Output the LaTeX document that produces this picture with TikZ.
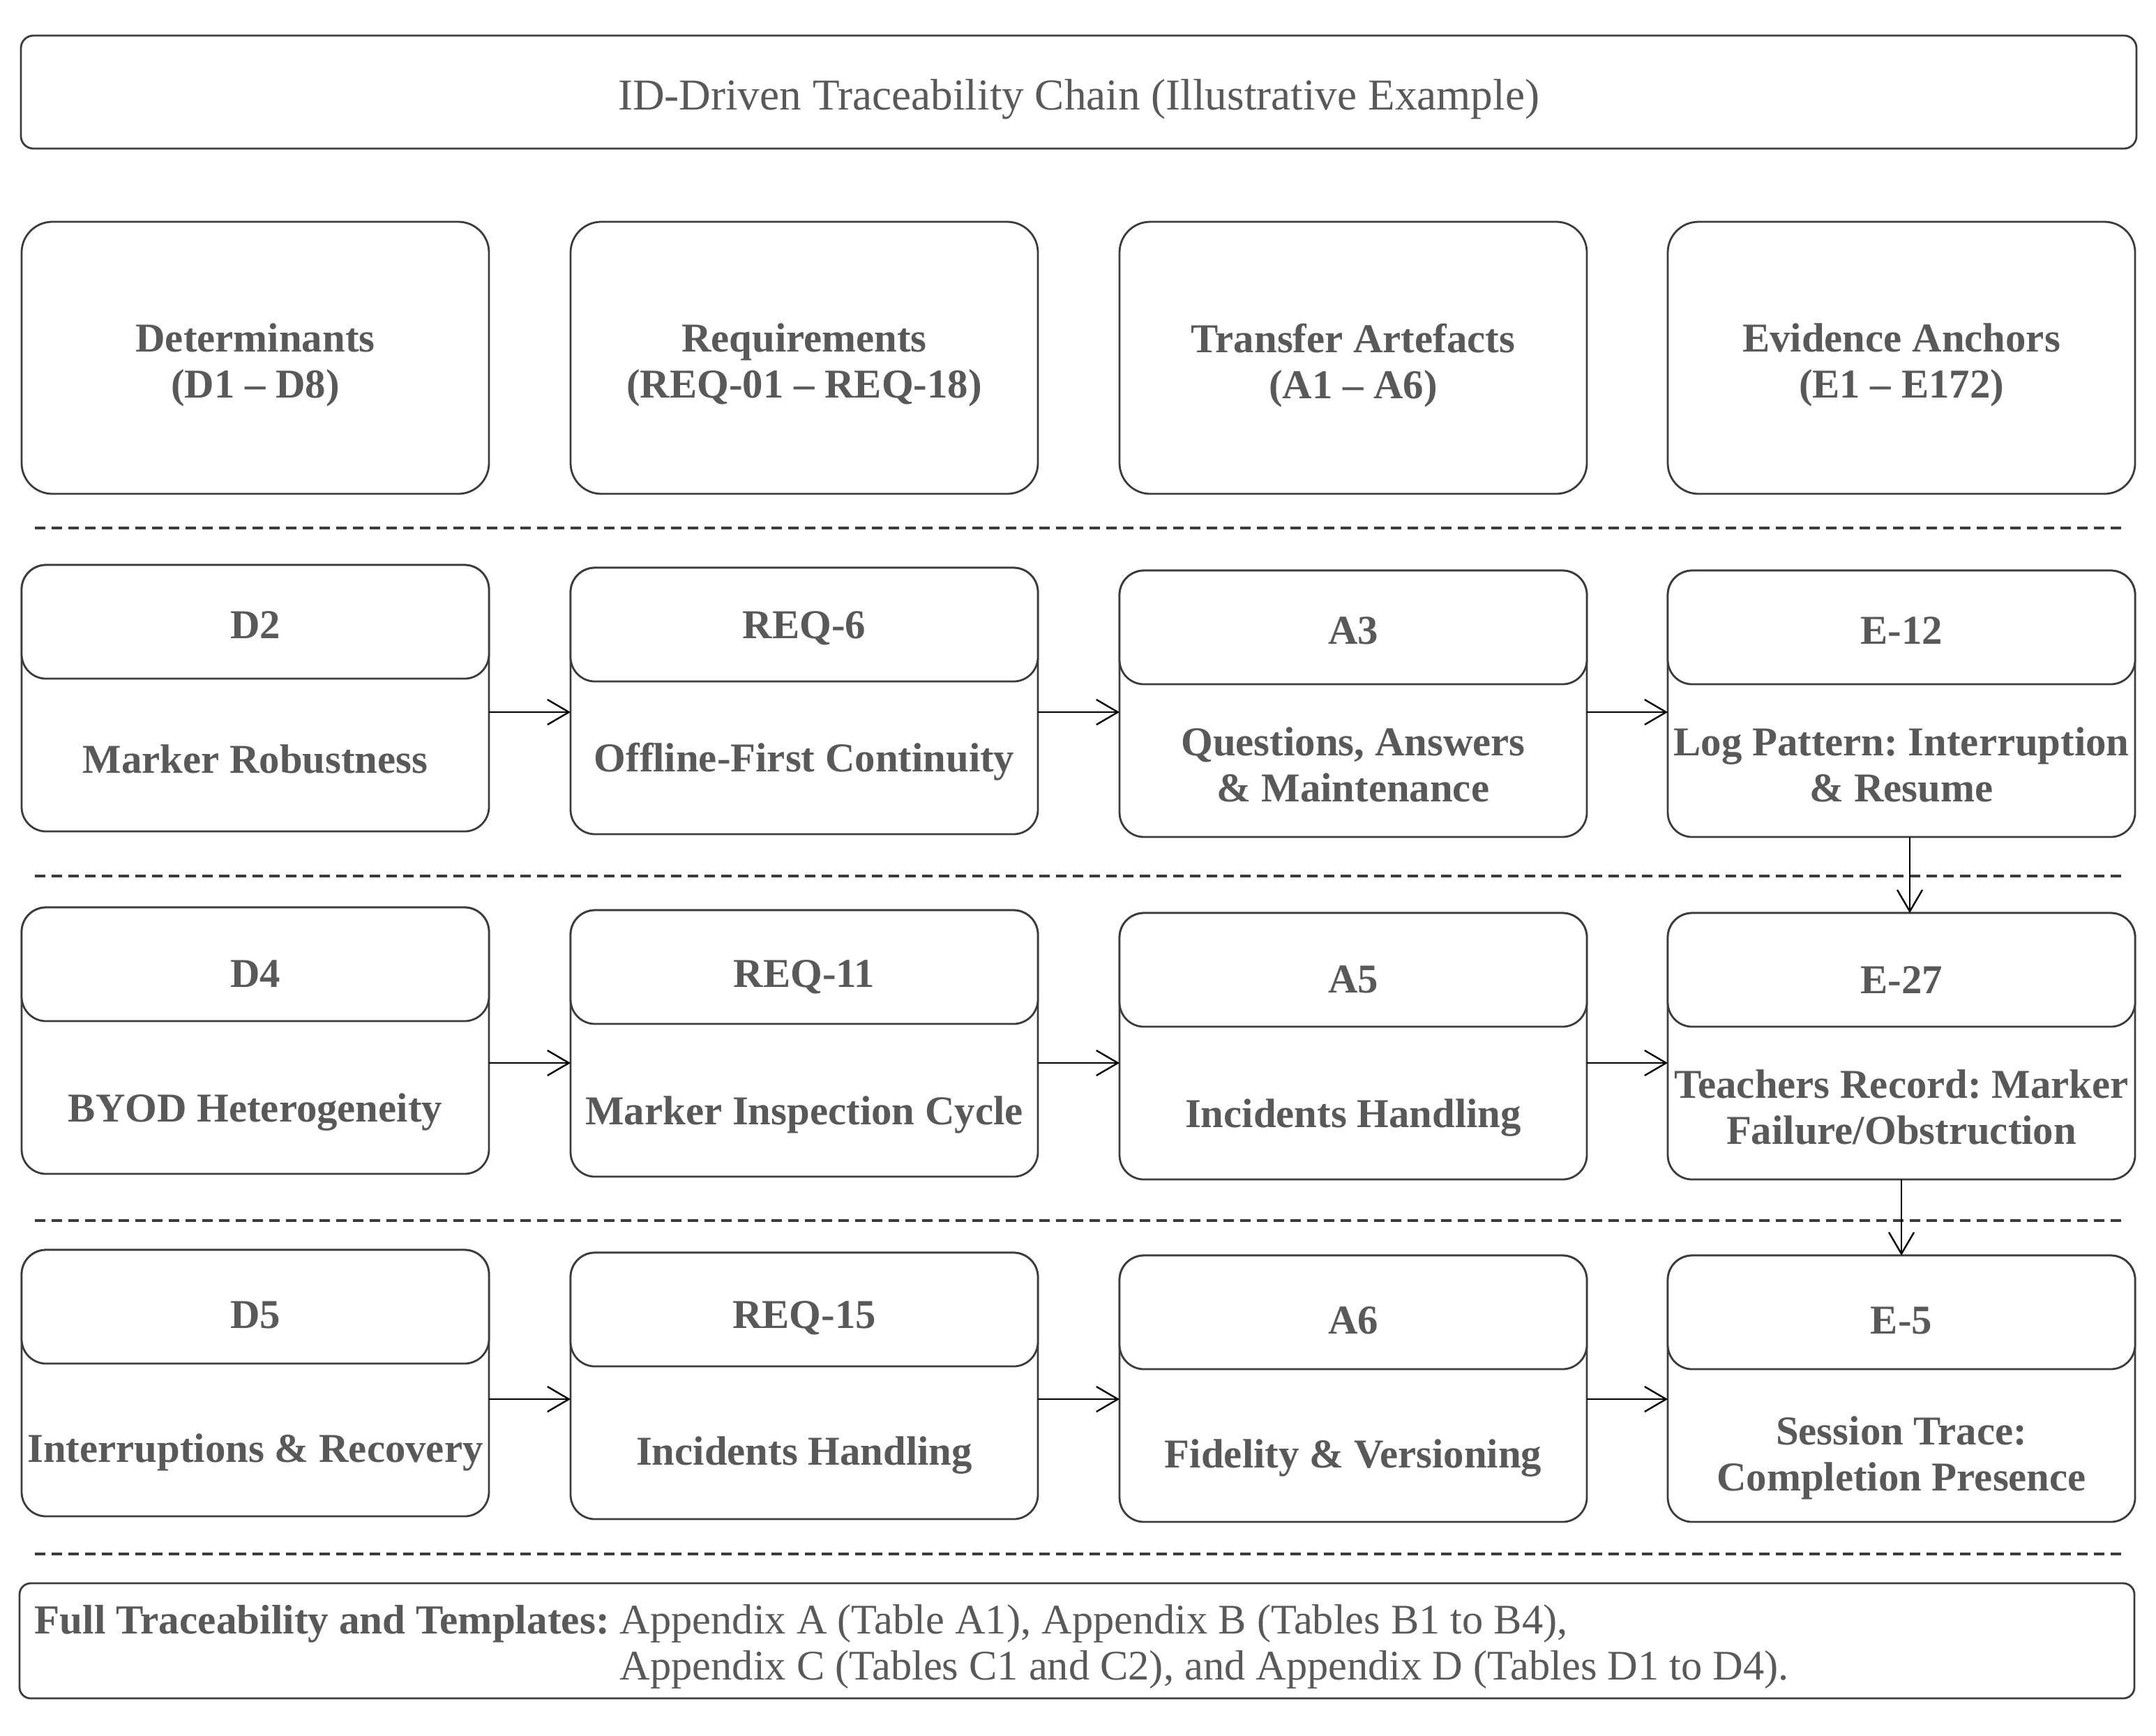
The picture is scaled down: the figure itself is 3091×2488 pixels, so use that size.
\documentclass[tikz,border=0pt]{standalone}
\usepackage{fontspec}
\setmainfont{Liberation Serif}
\usetikzlibrary{arrows.meta}
\definecolor{txtc}{HTML}{595959}
\definecolor{lnc}{HTML}{3C3C3C}
\newcommand\boxfont{\fontsize{14.7}{16.5}\selectfont\bfseries}
\newcommand\chainbox[5]{%
  \node[boxshape] (#1) at (#2,#3) {};
  \node[hdrshape] (#1h) at (#2,#3) {};
  \node[bodytext,hdrshift] (#1ht) at (#1h.center) {#4};
  \path (#1h.south) -- (#1.south) node[midway,bodytext,bodyshift] (#1b) {#5};}
\begin{document}
\frenchspacing
\begin{tikzpicture}[x=0.25pt,y=-0.25pt,
  boxshape/.style={draw=lnc,line width=0.7pt,rounded corners=8.75pt,minimum width=167.5pt,minimum height=95.5pt,inner sep=0pt,outer sep=0pt,anchor=north west,fill=white},
  hdrshape/.style={boxshape,minimum height=40.75pt},
  bodytext/.style={text=txtc,font=\boxfont,align=center,inner sep=0pt},
  topbox/.style={draw=lnc,line width=0.7pt,rounded corners=11pt,minimum width=167.5pt,minimum height=97.5pt,inner sep=0pt,outer sep=0pt,anchor=north west},
  conn/.style={draw=black,line width=0.6pt,-{Straight Barb[length=7.7pt,width=9pt,line width=0.6pt]}},
  sepline/.style={draw=lnc,line width=1pt,dash pattern=on 3.75pt off 2.25pt},
  hdrshift/.style={yshift=-1.2pt},
  bodyshift/.style={yshift=-1.5pt}
]
\useasboundingbox[fill=white] (0,0) rectangle (3091,2488);

% title
\node[draw=lnc,line width=0.7pt,rounded corners=4.5pt,minimum width=758.25pt,minimum height=40.5pt,inner sep=0pt,outer sep=0pt,anchor=north west] (title) at (30,51) {};
\node[text=txtc,font=\fontsize{15.8}{18}\selectfont,inner sep=0pt,yshift=-2.5pt] (titletext) at (title.center) {ID-Driven Traceability Chain (Illustrative Example)};

% column headers
\node[topbox] (hd) at (31,318) {};
\node[topbox] (hr) at (818,318) {};
\node[topbox] (ha) at (1605,318) {};
\node[topbox] (he) at (2391,318) {};
\node[bodytext,yshift=-2.7pt] (hdt) at (hd.center) {Determinants\\(D1 – D8)};
\node[bodytext,yshift=-2.7pt] (hrt) at (hr.center) {Requirements\\(REQ-01 – REQ-18)};
\node[bodytext,yshift=-2.7pt] (hat) at (ha.center) {Transfer Artefacts\\(A1 – A6)};
\node[bodytext,yshift=-2.7pt] (het) at (he.center) {Evidence Anchors\\(E1 – E172)};

% separators
\draw[sepline] (50,757) -- (3047,757);
\draw[sepline] (50,1256) -- (3047,1256);
\draw[sepline] (50,1750) -- (3047,1750);
\draw[sepline] (50,2228) -- (3047,2228);

% row 1
\chainbox{d2}{31}{810}{D2}{Marker Robustness}
\chainbox{req6}{818}{814}{REQ-6}{Offline-First Continuity}
\chainbox{a3}{1605}{818}{A3}{Questions, Answers\\\& Maintenance}
\chainbox{e12}{2391}{818}{E-12}{Log Pattern: Interruption\\\& Resume}

% row 2
\tikzset{hdrshift/.style={yshift=-3.5pt},bodyshift/.style={yshift=-5.2pt}}
\chainbox{d4}{31}{1301}{D4}{BYOD Heterogeneity}
\chainbox{req11}{818}{1305}{REQ-11}{Marker Inspection Cycle}
\chainbox{a5}{1605}{1309}{A5}{Incidents Handling}
\tikzset{bodyshift/.style={yshift=-1.4pt}}
\chainbox{e27}{2391}{1309}{E-27}{Teachers Record: Marker\\Failure/Obstruction}

% row 3
\tikzset{hdrshift/.style={yshift=-3pt},bodyshift/.style={yshift=-4.4pt}}
\chainbox{d5}{31}{1792}{D5}{Interruptions \& Recovery}
\chainbox{req15}{818}{1796}{REQ-15}{Incidents Handling}
\chainbox{a6}{1605}{1800}{A6}{Fidelity \& Versioning}
\chainbox{e5}{2391}{1800}{E-5}{Session Trace:\\Completion Presence}

% arrows
\coordinate (r1) at (0,1021);
\coordinate (r2) at (0,1524);
\coordinate (r3) at (0,2006);
\draw[conn] (d2.east |- r1) -- (req6.west |- r1);
\draw[conn] (req6.east |- r1) -- (a3.west |- r1);
\draw[conn] (a3.east |- r1) -- (e12.west |- r1);
\draw[conn] (d4.east |- r2) -- (req11.west |- r2);
\draw[conn] (req11.east |- r2) -- (a5.west |- r2);
\draw[conn] (a5.east |- r2) -- (e27.west |- r2);
\draw[conn] (d5.east |- r3) -- (req15.west |- r3);
\draw[conn] (req15.east |- r3) -- (a6.west |- r3);
\draw[conn] (a6.east |- r3) -- (e5.west |- r3);
\draw[conn] ([xshift=3pt]e12.south) -- ([xshift=3pt]e27.north);
\draw[conn] (e27.south) -- (e5.north);

% footer
\node[draw=lnc,line width=0.7pt,rounded corners=4pt,minimum width=758pt,minimum height=41.25pt,inner sep=0pt,outer sep=0pt,anchor=north west] (foot) at (28,2270) {};
\node[anchor=base west,text=txtc,font=\fontsize{15.1}{16.5}\selectfont,inner sep=0pt] (foottext) at (49,2342) {{\fontsize{14.8}{16.5}\selectfont\bfseries Full Traceability and Templates:} \begin{tabular}[t]{@{}l@{}}Appendix A (Table A1), Appendix B (Tables B1 to B4),\\Appendix C (Tables C1 and C2), and Appendix D (Tables D1 to D4).\end{tabular}};
\end{tikzpicture}
\end{document}
